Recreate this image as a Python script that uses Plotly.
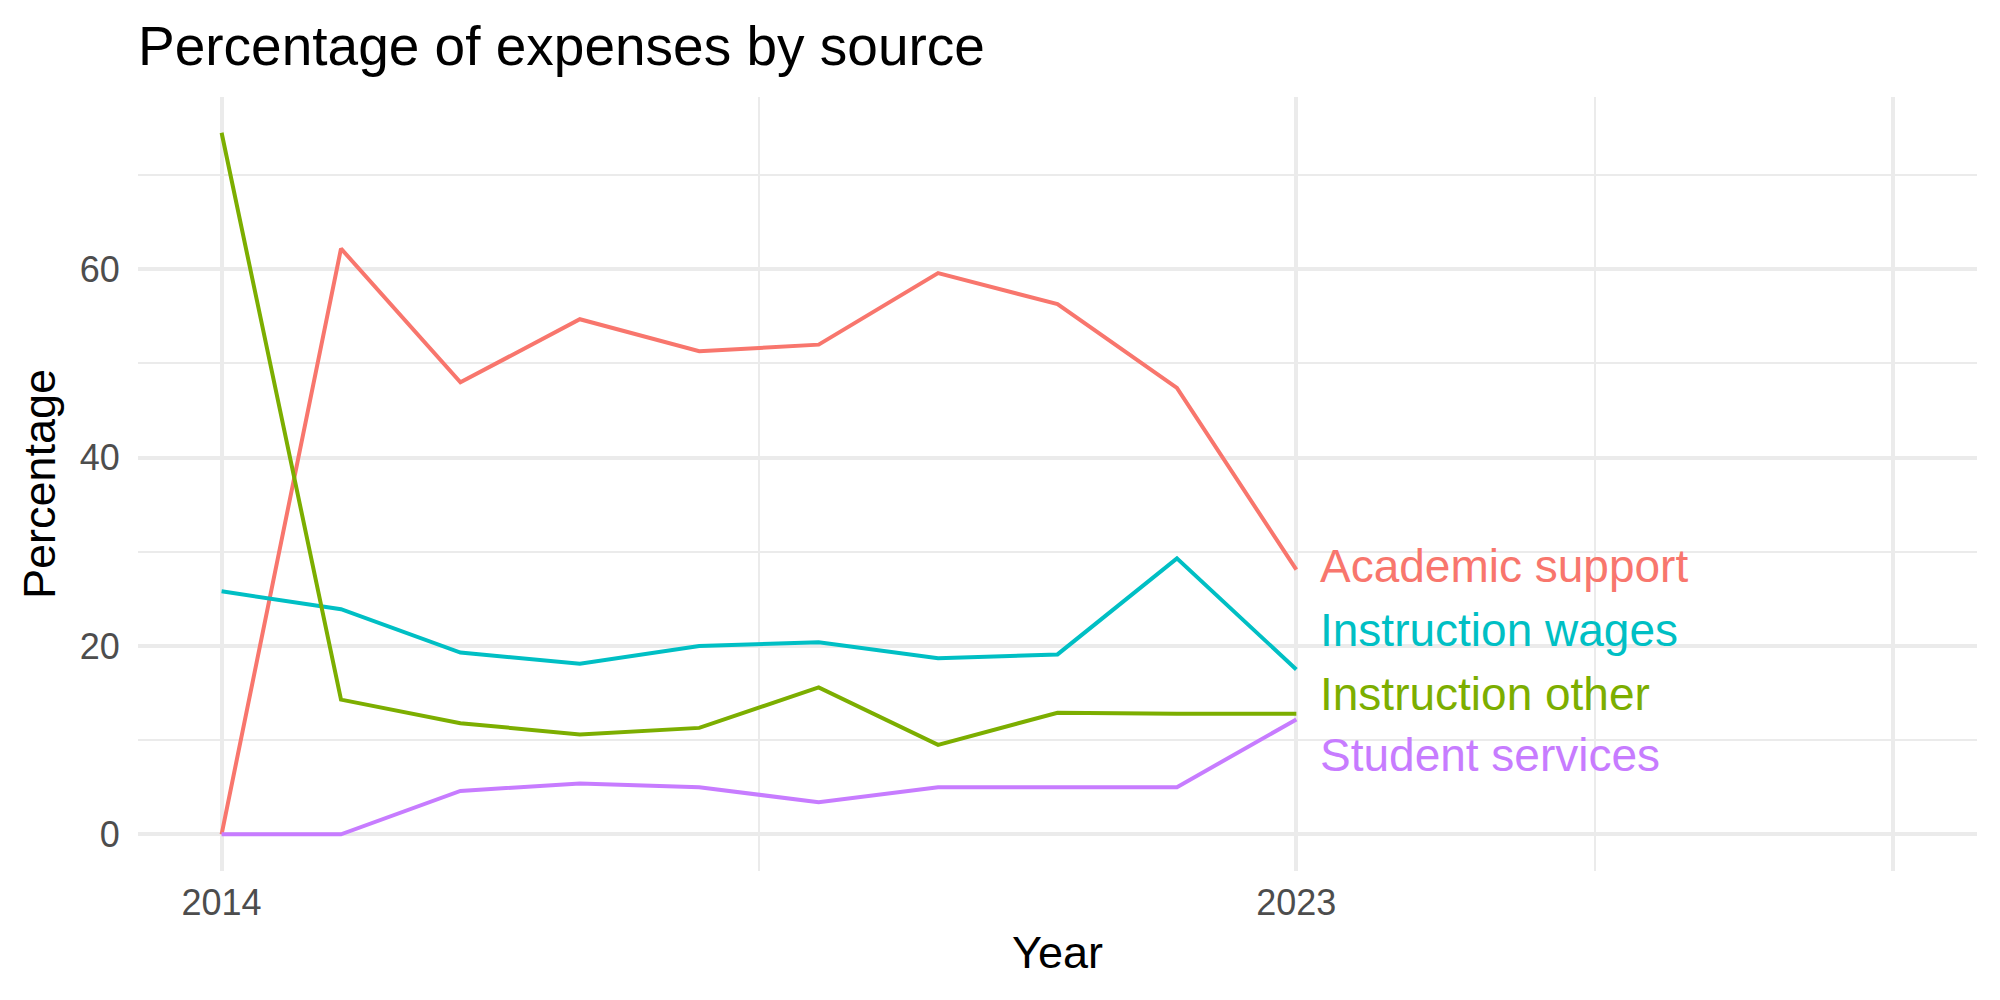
import plotly.graph_objects as go

years = [2014, 2015, 2016, 2017, 2018, 2019, 2020, 2021, 2022, 2023]
series_names = ["Academic support", "Instruction wages", "Instruction other", "Student services"]
academic_support = [0.0, 62.2, 48.0, 54.7, 51.3, 52.0, 59.6, 56.3, 47.4, 28.1]
instruction_wages = [25.8, 23.9, 19.3, 18.1, 20.0, 20.4, 18.7, 19.1, 29.3, 17.5]
instruction_other = [74.5, 14.3, 11.8, 10.6, 11.3, 15.6, 9.5, 12.9, 12.8, 12.8]
student_services = [0.0, 0.0, 4.6, 5.4, 5.0, 3.4, 5.0, 5.0, 5.0, 12.2]
label_y = [28.5, 21.7, 14.9, 8.4]
colors = ["#F8766D", "#00BFC4", "#7CAE00", "#C77CFF"]

x_ticks = [2014, 2023, 2028]
x_tick_labels = ["2014", "2023", ""]
x_minor = [2018.5, 2025.5]
y_ticks = [0, 20, 40, 60]
y_tick_labels = ["0", "20", "40", "60"]

FONT = "Liberation Sans"
GRID = "#EBEBEB"

fig = go.Figure()
all_vals = [academic_support, instruction_wages, instruction_other, student_services]
for name, vals, col in zip(series_names, all_vals, colors):
    fig.add_trace(go.Scatter(x=years, y=vals, mode="lines", name=name,
                             line=dict(color=col, width=4), showlegend=False))

for name, ly, col in zip(series_names, label_y, colors):
    fig.add_annotation(x=years[-1], y=ly, text=name, showarrow=False,
                       xanchor="left", yanchor="middle", xshift=22,
                       font=dict(family=FONT, size=46, color=col))

fig.update_layout(
    width=2000, height=1000,
    margin=dict(l=138, r=23, t=97, b=129),
    paper_bgcolor="white", plot_bgcolor="white",
    title=dict(text="Percentage of expenses by source", x=0.069, xanchor="left",
               xref="container", y=0.954, yref="container", yanchor="middle",
               font=dict(family=FONT, size=55, color="black")),
    xaxis=dict(range=[2013.3, 2028.7], tickmode="array", tickvals=x_ticks,
               ticktext=x_tick_labels, showgrid=True, gridcolor=GRID, gridwidth=4,
               zeroline=False, showline=False, ticks="outside", ticklen=0,
               tickcolor="rgba(0,0,0,0)",
               tickfont=dict(family=FONT, size=36, color="#4D4D4D"),
               minor=dict(tickmode="array", tickvals=x_minor, showgrid=True,
                          gridcolor=GRID, gridwidth=2, ticks=""),
               title=dict(text="Year", standoff=14,
                          font=dict(family=FONT, size=45, color="black"))),
    yaxis=dict(range=[-3.9, 78.3], tickmode="array", tickvals=y_ticks,
               ticktext=y_tick_labels, showgrid=True, gridcolor=GRID, gridwidth=4,
               zeroline=False, showline=False, ticks="outside", ticklen=10,
               tickcolor="rgba(0,0,0,0)",
               tickfont=dict(family=FONT, size=36, color="#4D4D4D"),
               minor=dict(tickmode="array", tickvals=[10, 30, 50, 70], showgrid=True,
                          gridcolor=GRID, gridwidth=2, ticks=""),
               title=dict(text="Percentage", standoff=10,
                          font=dict(family=FONT, size=45, color="black"))),
)

fig.write_html("out.html")
